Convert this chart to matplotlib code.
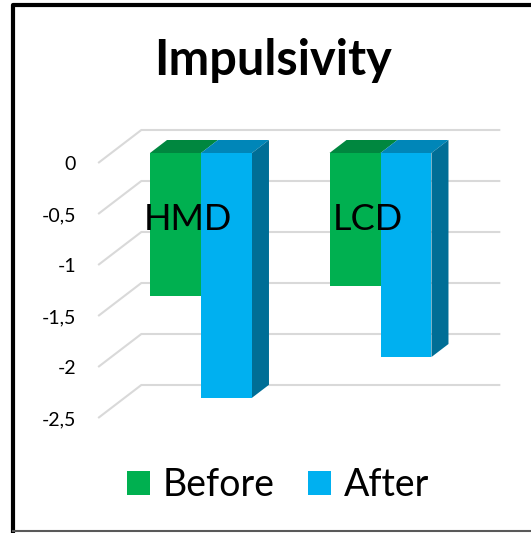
import numpy as np
import matplotlib
matplotlib.use("Agg")
import matplotlib.pyplot as plt
from matplotlib.patches import Polygon, Patch
from matplotlib.lines import Line2D

plt.rcParams['font.family'] = ['Lato', 'DejaVu Sans']

# data
groups = ["HMD", "LCD"]
before = [-1.4, -1.3]
after = [-2.4, -2.0]
series_names = ["Before", "After"]
ticks = [0, -0.5, -1, -1.5, -2, -2.5]
tick_labels = ["0", "-0,5", "-1", "-1,5", "-2", "-2,5"]

green, green_top = "#00B050", "#00873F"
blue, blue_top, blue_side = "#00B0F0", "#0086B8", "#006E96"
grid_col = "#D9D9D9"

W, H = 531, 533
fig = plt.figure(figsize=(W / 100, H / 100), dpi=100)
ax = fig.add_axes([0, 0, 1, 1])
ax.set_xlim(-201 / 179.5, 330 / 179.5)
ax.set_ylim(-380 / 102, 153 / 102)
ax.axis("off")

# oblique projection: one unit of depth = bar depth
DX, DY = 17 / 179.5, 13 / 102
D_FRONT, D_WALL = -0.77, 1.77
X_LO, X_HI = -0.5, 1.5
BW = 0.284


def proj(x, v, d):
    return x + d * DX, v + d * DY


# floor diagonals + back wall gridlines
for t, lab in zip(ticks, tick_labels):
    p0 = proj(X_LO, t, D_FRONT)
    p1 = proj(X_LO, t, D_WALL)
    p2 = proj(X_HI, t, D_WALL)
    ax.plot([p0[0], p1[0], p2[0]], [p0[1], p1[1], p2[1]], color=grid_col,
            lw=1.5, zorder=1, solid_capstyle="butt")
    ax.annotate(lab, p0, xytext=(-16, -1), textcoords="offset points",
                ha="right", va="center", fontsize=14, color="#000000")

x = np.arange(len(groups))


def top_face(x0, x1, color):
    pts = [proj(x0, 0, 0), proj(x1, 0, 0), proj(x1, 0, 1), proj(x0, 0, 1)]
    ax.add_patch(Polygon(pts, closed=True, facecolor=color, edgecolor="none", zorder=3))


def side_face(x1, v, color):
    pts = [proj(x1, 0, 0), proj(x1, v, 0), proj(x1, v, 1), proj(x1, 0, 1)]
    ax.add_patch(Polygon(pts, closed=True, facecolor=color, edgecolor="none", zorder=3))


for i in x:
    top_face(i - BW, i, green_top)
    top_face(i, i + BW, blue_top)
    side_face(i + BW, after[i], blue_side)

ax.bar(x - BW, before, width=BW, align="edge", color=green, zorder=4)
ax.bar(x, after, width=BW, align="edge", color=blue, zorder=4)

# category labels sit on the front floor plane
for i, g in enumerate(groups):
    px, py = proj(i, -0.55, D_FRONT)
    ax.text(px, py, g, ha="center", va="center", fontsize=26, zorder=6)

fig.text(273 / W, 1 - 75 / H, "Impulsivity", ha="center", va="baseline",
         fontsize=35, fontweight="bold")

handles = [Patch(facecolor=green, edgecolor="none"), Patch(facecolor=blue, edgecolor="none")]
fig.legend(handles, series_names, loc="center", bbox_to_anchor=(278 / W, 1 - 485 / H),
           ncol=2, frameon=False, fontsize=27, handlelength=0.62, handleheight=0.62,
           handletextpad=0.33, columnspacing=0.9, borderpad=0)

# chart border
fig.add_artist(Line2D([13 / W, 13 / W, 1.02], [1 - 531 / H, 1 - 5 / H, 1 - 5 / H],
                      color="black", lw=3, solid_capstyle="projecting"))
fig.add_artist(Line2D([13 / W, 1.02], [1 - 531 / H, 1 - 531 / H], color="#595959", lw=1.5))

fig.savefig("out.png", dpi=100)
